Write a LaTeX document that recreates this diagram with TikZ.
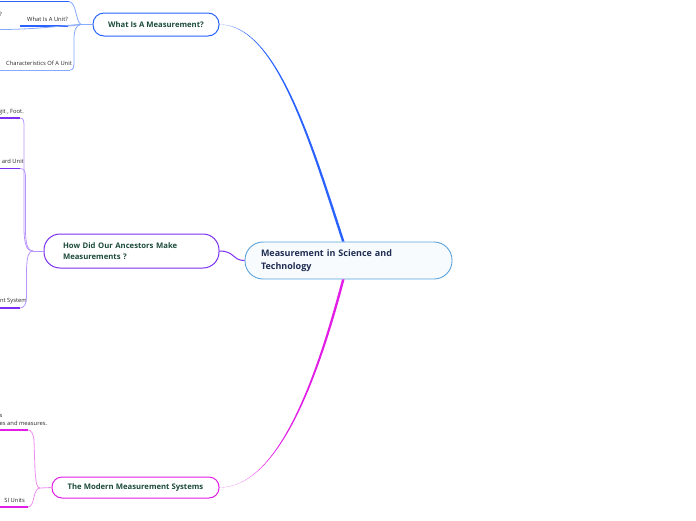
\documentclass[tikz,border=0pt]{standalone}
\usepackage{fontspec}
\setmainfont{Open Sans}
\usetikzlibrary{positioning,calc}

\definecolor{rootedge}{HTML}{5BA3DC}
\definecolor{rootfill}{HTML}{F7FBFE}
\definecolor{roottext}{HTML}{1F2D52}
\definecolor{topictext}{HTML}{1C4B3C}
\definecolor{blueline}{HTML}{2A62FF}
\definecolor{bluelight}{HTML}{86A8FF}
\definecolor{purpline}{HTML}{7A2FF2}
\definecolor{purplight}{HTML}{B794FF}
\definecolor{magline}{HTML}{E21DE6}
\definecolor{maglight}{HTML}{F08CF2}

\hyphenpenalty=10000
\exhyphenpenalty=10000

\begin{document}
\begin{tikzpicture}[
    x=1pt, y=-1pt,
    root/.style={
        draw=rootedge,
        fill=rootfill,
        line width=0.9pt,
        rounded corners=18pt,
        minimum width=207pt,
        minimum height=37pt,
        inner xsep=16pt,
        text width=175pt,
        align=left,
        text=roottext,
        font=\bfseries\fontsize{9}{13}\selectfont
    },
    topic/.style={
        draw,
        fill=white,
        line width=1pt,
        align=center,
        text=topictext,
        font=\bfseries\fontsize{7.7}{11}\selectfont
    },
    leaf/.style={inner sep=0pt, text=black!85, font=\fontsize{5.8}{8.5}\selectfont},
    stem/.style={line width=0.8pt},
    under/.style={line width=1.4pt}
]
\useasboundingbox (0,0) rectangle (696,520);
\clip (0,0) rectangle (696,520);

% ============================================================
% CENTRAL TOPIC AND MAIN BRANCHES
% ============================================================
\node[root] (root) at (348.5,260.5) {Measurement in Science and Technology};

\node[topic, draw=blueline, rounded corners=11pt,
      minimum width=126pt, minimum height=23pt] (meas) at (156,24.5) {What Is A Measurement?};
\node[topic, draw=purpline, rounded corners=16pt,
      minimum width=175pt, minimum height=34pt,
      inner xsep=19pt, text width=137pt, align=left] (anc) at (131.5,251)
      {How Did Our Ancestors Make Measurements ?};
\node[topic, draw=magline, rounded corners=10pt,
      minimum width=167pt, minimum height=21pt] (mod) at (135.5,487.5) {The Modern Measurement Systems};

\fill[blueline] (meas.east) .. controls (275,24.5) and (309,140) .. ([xshift=-6.5pt]root.north)
    -- ([xshift=-4pt]root.north) .. controls (311.5,140) and (276,24) .. (meas.east) -- cycle;
\draw[purpline, line width=1pt] (anc.east) .. controls (235,251) and (232,260.5) .. (root.west);
\fill[magline] (mod.east) .. controls (280,487.5) and (318,370) .. ([xshift=-6.5pt]root.south)
    -- ([xshift=-4pt]root.south) .. controls (320.5,370) and (281,487) .. (mod.east) -- cycle;

% ============================================================
% WHAT IS A MEASUREMENT?
% ============================================================
\coordinate (j1) at (81,24.5);
\coordinate (u0) at (69,1.5);
\coordinate (u1) at (68,26);
\coordinate (u2) at (-2,29.5);
\coordinate (u3) at (70,70);

\node[leaf, anchor=base east] (qmark) at (2,16) {?};
\node[leaf, anchor=base east] (unitq) at (68,21.5) {What Is A Unit?};
\node[leaf, anchor=base east] (charunit) at (72,65.5) {Characteristics Of A Unit};

\draw[under, blueline] (-2,1.5) -- (u0);
\draw[under, blueline] (20,26) -- (u1);
\draw[stem, bluelight] (-2,70) -- (u3);
\draw[stem, bluelight] (meas.west) -- (j1);
\draw[stem, bluelight] (u0) .. controls (77,3) and (75,20) .. (j1);
\draw[stem, bluelight] (u1) .. controls (74,26) and (76,24.5) .. (j1);
\draw[stem, bluelight] (u2) .. controls (40,29.5) and (65,25) .. (j1);
\draw[stem, bluelight] (u3) .. controls (73.5,70) and (74,67) .. (74,62)
    -- (74,40) .. controls (74,30) and (76,25) .. (j1);

% ============================================================
% HOW DID OUR ANCESTORS MAKE MEASUREMENTS ?
% ============================================================
\coordinate (j2) at (33,251);
\coordinate (p1) at (20,118);
\coordinate (p2) at (20,168.5);
\coordinate (p3) at (20,308);

\node[leaf, anchor=base east] (foot) at (24,113.5) {git , Foot.};
\node[leaf, anchor=base east] (stdunit) at (24,163.5) {ard Unit};
\node[leaf, anchor=base east] (system) at (27,302.5) {nt System};

\draw[under, purpline] (-2,118) -- (p1);
\draw[under, purpline] (-2,168.5) -- (p2);
\draw[under, purpline] (-2,308) -- (p3);
\draw[stem, purplight] (anc.west) -- (j2);
\draw[stem, purplight] (p1) .. controls (23.5,118) and (24,121) .. (24,126)
    -- (24,230) .. controls (24.5,246) and (27,251) .. (j2);
\draw[stem, purplight] (p2) .. controls (24,168.5) and (25.5,171) .. (25.5,177)
    -- (25.5,232) .. controls (26,246) and (28,251) .. (j2);
\draw[stem, purplight] (p3) .. controls (24,308) and (26.5,304) .. (26.5,297)
    -- (26.5,270) .. controls (27,256) and (28.5,251) .. (j2);

% ============================================================
% THE MODERN MEASUREMENT SYSTEMS
% ============================================================
\coordinate (j3) at (40,488);
\coordinate (m1) at (28,430);
\coordinate (m2) at (28,507);

\node[leaf, anchor=base west, align=left] (measures) at (-0.5,425.5) {s\\es and measures.};
\node[leaf, anchor=base east] (siunits) at (25,502) {SI Units};

\draw[under, magline] (-2,430) -- (m1);
\draw[under, magline] (-2,507) -- (m2);
\draw[stem, maglight] (mod.west) -- (j3);
\draw[stem, maglight] (m1) .. controls (31,430) and (33,433) .. (34,440)
    -- (35,470) .. controls (36,484) and (37,488) .. (j3);
\draw[stem, maglight] (m2) .. controls (31,507) and (33,503) .. (34,497)
    .. controls (35,492) and (37,488) .. (j3);

\end{tikzpicture}
\end{document}
